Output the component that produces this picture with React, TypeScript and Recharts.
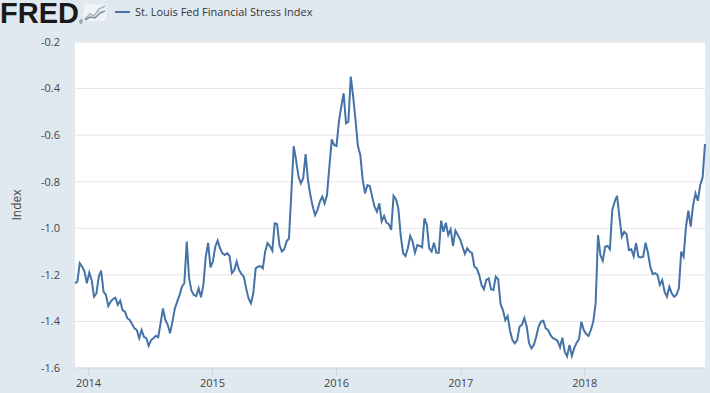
import React from 'react';
import { LineChart, Line, XAxis, YAxis, CartesianGrid } from 'recharts';

// weekly readings (Fridays), first one 2013-11-22
const firstWeek = Date.UTC(2013, 10, 22);

const stress2013 = [-1.236, -1.229, -1.15, -1.165, -1.186, -1.236];
const stress2014 = [
  -1.19, -1.222, -1.294, -1.28, -1.208, -1.182, -1.272, -1.286, -1.334, -1.315, -1.304, -1.298, -1.329,
  -1.311, -1.351, -1.358, -1.386, -1.394, -1.411, -1.43, -1.437, -1.472, -1.437, -1.466, -1.472, -1.505,
  -1.48, -1.472, -1.462, -1.468, -1.408, -1.344, -1.394, -1.415, -1.451, -1.401, -1.344, -1.315, -1.286,
  -1.25, -1.236, -1.057, -1.215, -1.268, -1.286, -1.291, -1.258, -1.296, -1.243, -1.122, -1.062, -1.168,
];
const stress2015 = [
  -1.143, -1.079, -1.053, -1.086, -1.107, -1.115, -1.107, -1.119, -1.193, -1.179, -1.143, -1.179, -1.196,
  -1.208, -1.258, -1.301, -1.322, -1.279, -1.172, -1.165, -1.162, -1.172, -1.1, -1.064, -1.076, -1.096,
  -0.979, -0.982, -1.072, -1.1, -1.09, -1.057, -1.043, -0.85, -0.647, -0.707, -0.778, -0.807, -0.785,
  -0.681, -0.793, -0.857, -0.907, -0.943, -0.921, -0.886, -0.864, -0.893, -0.857, -0.735, -0.618, -0.642,
];
const stress2016 = [
  -0.647, -0.542, -0.478, -0.42, -0.549, -0.542, -0.349, -0.435, -0.535, -0.647, -0.685, -0.79, -0.85,
  -0.814, -0.818, -0.864, -0.907, -0.929, -0.893, -0.971, -0.947, -0.976, -0.982, -1.007, -0.861, -0.875,
  -0.914, -1.03, -1.107, -1.119, -1.086, -1.033, -1.057, -1.105, -1.072, -1.076, -1.082, -0.957, -0.986,
  -1.086, -1.1, -1.062, -1.105, -1.105, -0.967, -1.015, -0.976, -1.029, -1.004, -1.076, -1.01, -1.029,
  -1.047,
];
const stress2017 = [
  -1.079, -1.11, -1.086, -1.1, -1.107, -1.165, -1.172, -1.2, -1.243, -1.262, -1.222, -1.215, -1.262,
  -1.265, -1.208, -1.219, -1.325, -1.351, -1.394, -1.377, -1.44, -1.48, -1.494, -1.48, -1.422, -1.415,
  -1.386, -1.422, -1.494, -1.515, -1.501, -1.466, -1.422, -1.401, -1.397, -1.43, -1.437, -1.458, -1.472,
  -1.476, -1.484, -1.511, -1.47, -1.53, -1.55, -1.501, -1.548, -1.515, -1.491, -1.476, -1.401, -1.437,
];
const stress2018 = [
  -1.454, -1.462, -1.437, -1.401, -1.322, -1.029, -1.115, -1.139, -1.079, -1.076, -1.09, -0.921, -0.886,
  -0.861, -0.95, -1.036, -1.015, -1.025, -1.093, -1.09, -1.12, -1.064, -1.122, -1.125, -1.122, -1.062,
  -1.105, -1.165, -1.197, -1.193, -1.2, -1.243, -1.222, -1.272, -1.294, -1.251, -1.279, -1.294, -1.286,
  -1.258, -1.1, -1.122, -0.993, -0.924, -0.993, -0.9, -0.85, -0.882, -0.814, -0.781, -0.638,
];

const yearTicks = [2014, 2015, 2016, 2017, 2018];
const indexTicks = [-1.6, -1.4, -1.2, -1.0, -0.8, -0.6, -0.4, -0.2];
const seriesName = 'St. Louis Fed Financial Stress Index';

const WEEK = 7 * 24 * 3600 * 1000;
const chartData = [...stress2013, ...stress2014, ...stress2015, ...stress2016, ...stress2017, ...stress2018].map(
  (v, i) => ({ t: firstWeek + i * WEEK, v })
);

const LINE_COLOR = '#4572a7';

const Header = () => (
  <svg width={710} height={30} style={{ position: 'absolute', left: 0, top: 0 }}>
    <text x={0} y={23} fontFamily="'Liberation Sans', Arial, sans-serif" fontWeight="bold" fontSize={29} fill="#1a1a1a">
      FRED
    </text>
    <text x={79} y={24} fontFamily="'Liberation Sans', Arial, sans-serif" fontSize={5} fill="#1a1a1a">®</text>
    {/* little logo graph */}
    <rect x={84} y={4} width={22} height={17} fill="#f1f3f6" />
    <polyline points="85,19 90,14 94,16 99,9 105,6" fill="none" stroke="#a8b4c4" strokeWidth={1.5} />
    <polyline points="85,20 90,17 95,18 100,13 105,11" fill="none" stroke="#7d8fa8" strokeWidth={1.5} />
    <line x1={115} x2={130} y1={12} y2={12} stroke={LINE_COLOR} strokeWidth={2} />
    <text x={135} y={16} fontFamily="'Open Sans', sans-serif" fontSize={11} fill="#333">
      {seriesName}
    </text>
  </svg>
);

export default function App() {
  return (
    <div
      style={{
        position: 'relative',
        width: 710,
        height: 393,
        background: '#e1e9f0',
        fontFamily: "'Open Sans', sans-serif",
      }}
    >
      <style>{'body{margin:0}'}</style>
      <LineChart width={710} height={393} data={chartData} margin={{ top: 42, right: 5, bottom: 0, left: 0 }}>
        <CartesianGrid vertical={false} fill="#ffffff" stroke="#e6e6e6" />
        <XAxis
          dataKey="t"
          type="number"
          domain={['dataMin', 'dataMax']}
          ticks={yearTicks.map((y) => Date.UTC(y, 0, 1))}
          tickFormatter={(t) => String(new Date(t).getUTCFullYear())}
          height={25}
          axisLine={{ stroke: '#ccd6eb' }}
          tickLine={{ stroke: '#ccd6eb' }}
          tickSize={8}
          tickMargin={3}
          tick={{ fill: '#444', fontSize: 11 }}
        />
        <YAxis
          domain={[-1.6, -0.2]}
          ticks={indexTicks}
          tickFormatter={(v) => v.toFixed(1)}
          width={75}
          axisLine={false}
          tickLine={false}
          tickSize={0}
          tickMargin={15}
          tick={{ fill: '#444', fontSize: 11 }}
          label={{ value: 'Index', angle: -90, position: 'insideLeft', offset: 17, style: { textAnchor: 'middle', fill: '#444', fontSize: 12 } }}
        />
        <Line
          type="linear"
          dataKey="v"
          name={seriesName}
          stroke={LINE_COLOR}
          strokeWidth={2}
          dot={false}
          isAnimationActive={false}
        />
      </LineChart>
      <Header />
    </div>
  );
}
